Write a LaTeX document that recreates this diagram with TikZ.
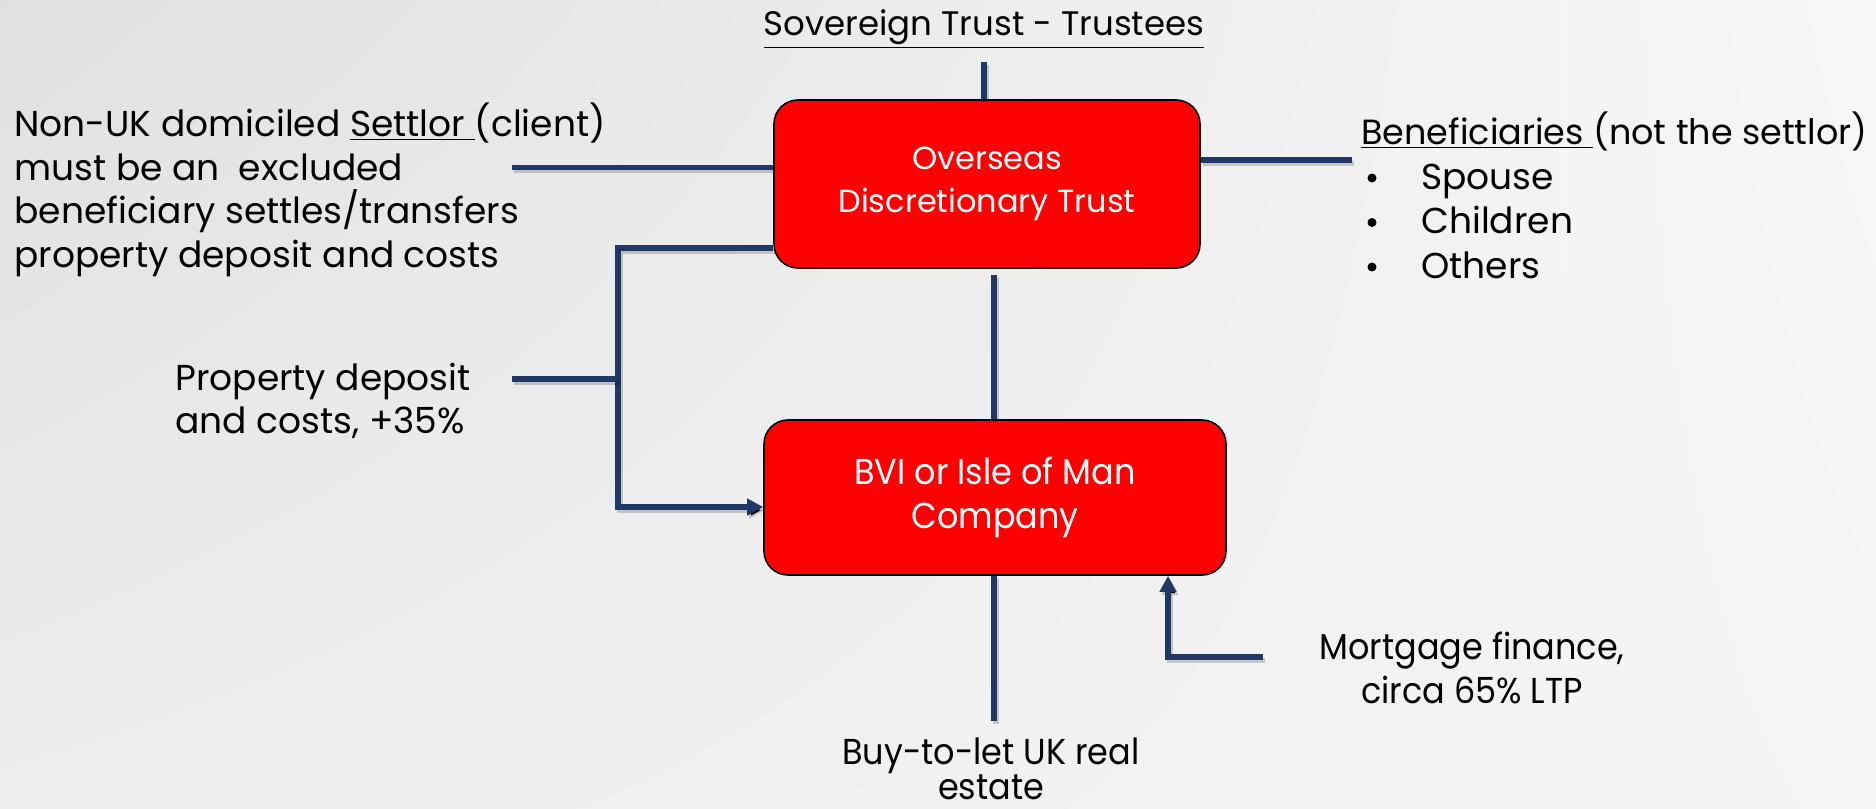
\documentclass[tikz,border=0pt]{standalone}
\usepackage{fontspec}
\setmainfont{Poppins}
\usetikzlibrary{arrows.meta,shadings}
\definecolor{navy}{RGB}{31,56,100}
\definecolor{boxred}{RGB}{255,0,0}
\tikzset{
  conn/.style={draw=navy, line width=2.6pt, preaction={draw=black, draw opacity=0.18, line width=2.6pt, transform canvas={shift={(1pt,-1.6pt)}}}},
  arr/.style={conn, -{Triangle[length=8pt,width=8pt]}},
  redbox/.style={draw=black, line width=0.8pt, fill=boxred, rounded corners=12pt, text=white, align=center, font=\fontsize{16}{21.5}\selectfont},
  txt/.style={inner sep=0pt, font=\fontsize{18}{21.8}\selectfont, text=black},
  ctxt/.style={inner sep=0pt, font=\fontsize{18}{22}\selectfont, text=black},
  bullet/.style={fill=black, draw=none},
}
\newcommand{\cond}[1]{\scalebox{0.93}[1]{#1}}
\begin{document}
\begin{tikzpicture}[x=0.5pt,y=-0.5pt]
\shade[upper left=black!12, upper right=black!3, lower left=black!7, lower right=black!4] (0,0) rectangle (1876,809);
\useasboundingbox (0,0) rectangle (1876,809);
% boxes
\node[redbox, minimum width=213pt, minimum height=84pt] (trust) at (987,184) {Overseas\\Discretionary Trust};
\node[redbox, minimum width=231pt, minimum height=77.5pt, font=\fontsize{18}{22}\selectfont] (company) at (995,497.5) {\cond{BVI or Isle of Man}\\\cond{Company}};
% texts
\node[txt, anchor=base, font=\fontsize{17}{21.8}\selectfont] (title) at (984,35) {\underline{Sovereign Trust - Trustees}};
\node[txt, anchor=west, align=left] (settlor) at (14,190) {Non-UK domiciled \underline{Settlor\ }(client)\\must be an\ \ excluded\\beneficiary settles/transfers\\property deposit and costs};
\node[txt, anchor=base west, font=\fontsize{17.5}{21.8}\selectfont] (benef) at (1361,144) {\underline{Beneficiaries\ }(not the settlor)};
\fill[bullet] (1372,178) circle (4.5);
\fill[bullet] (1372,222.5) circle (4.5);
\fill[bullet] (1372,267) circle (4.5);
\node[txt, anchor=base west] (s1) at (1421,189) {Spouse};
\node[txt, anchor=base west] (s2) at (1421,233.5) {Children};
\node[txt, anchor=base west] (s3) at (1421,278) {Others};
\node[txt, anchor=west, align=left] (deposit) at (175,401) {Property deposit\\and costs, +35\%};
\node[ctxt, align=center] (mortgage) at (1472,668) {\cond{Mortgage finance,}\\\cond{circa 65\% LTP}};
\node[ctxt, align=center, anchor=base] (btl) at (991,764) {\cond{Buy-to-let UK real}};
\node[ctxt, align=center, anchor=base] (btl2) at (991,799) {\cond{estate}};
% coordinates
\coordinate (topend) at (984,62);
\coordinate (settlorend) at (512,167.5);
\coordinate (benefend) at (1352,160);
\coordinate (depositend) at (512,379);
\coordinate (bracket) at (618,379);
\coordinate (midtop) at (994,275);
\coordinate (btlend) at (994,721);
\coordinate (mortcorner) at (1168,657);
\coordinate (mortend) at (1263,657);
% connectors
\draw[conn] (topend) -- (trust.north -| topend);
\draw[conn] (settlorend) -- (trust.west |- settlorend);
\draw[conn] (trust.east |- benefend) -- (benefend);
\draw[arr] (trust.west |- 0,248) -| (618,507) -- (company.west |- 0,507);
\draw[conn] (depositend) -- (bracket);
\draw[conn] (midtop) -- (company.north -| midtop);
\draw[conn] (company.south -| btlend) -- (btlend);
\draw[arr] (mortend) -- (mortcorner) -- (company.south -| mortcorner);
\end{tikzpicture}
\end{document}
